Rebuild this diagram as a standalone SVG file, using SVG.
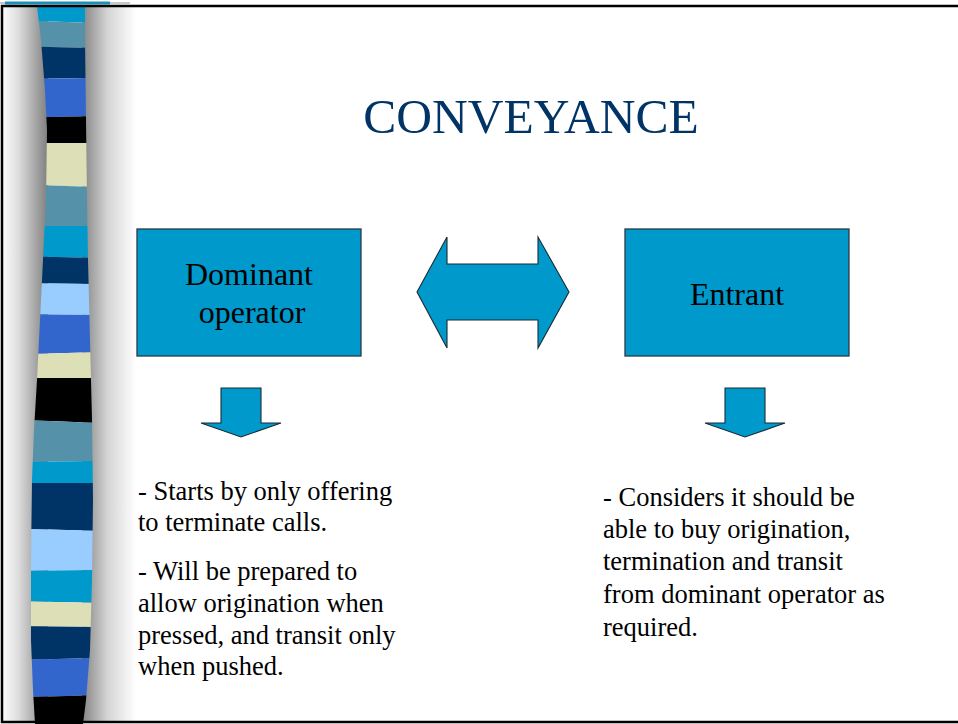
<svg xmlns="http://www.w3.org/2000/svg" width="958" height="724" viewBox="0 0 958 724">
<style>
.serif{font-family:"Liberation Serif","Times New Roman",serif;}
.node rect{fill:#0099CC;stroke:#2a3a44;stroke-width:1.3;}
.lbl{font-size:32px;fill:#000;text-anchor:middle;}
.body{font-size:26.5px;fill:#000;}
.arrow{fill:#0099CC;stroke:#1a2a33;stroke-width:1.1;stroke-linejoin:miter;}
</style>
<defs>
<linearGradient id="shL" gradientUnits="userSpaceOnUse" x1="3" y1="0" x2="46" y2="0">
<stop offset="0" stop-color="#fbfbfb"/><stop offset="0.35" stop-color="#dedede"/><stop offset="1" stop-color="#858585"/>
</linearGradient>
<linearGradient id="shR" gradientUnits="userSpaceOnUse" x1="84" y1="0" x2="136" y2="0">
<stop offset="0" stop-color="#8a8a8a"/><stop offset="0.45" stop-color="#d4d4d4"/><stop offset="1" stop-color="#ffffff"/>
</linearGradient>
<clipPath id="stripClip">
<path d="M37,6 L41,40 L45,90 L47,130 L46,200 L44,240 L41,300 L37,380 L34,430 L32,480 L31,560 L31,640 L33,690 L35,724 L83,724 L86,700 L90,650 L92,580 L93,500 L92,420 L90,340 L88,260 L87,200 L86,120 L85,40 L85,6 Z"/>
</clipPath>
</defs>
<rect x="0" y="0" width="958" height="724" fill="#ffffff"/>
<g id="sidebar">
<rect x="0" y="2" width="130" height="2" fill="#c8c8c8"/>
<rect x="5" y="1.5" width="105" height="3" fill="#1a8fb8"/>
<rect x="3" y="6" width="45" height="716" fill="url(#shL)"/>
<rect x="82" y="6" width="56" height="716" fill="url(#shR)"/>
<g clip-path="url(#stripClip)">
<polygon points="0,0 100,0 100,23 0,20" fill="#0099CC"/>
<polygon points="0,20 100,23 100,48 0,46" fill="#5592AA"/>
<polygon points="0,46 100,48 100,78 0,79" fill="#003366"/>
<polygon points="0,79 100,78 100,116 0,118" fill="#3366CC"/>
<polygon points="0,118 100,116 100,143 0,143" fill="#000000"/>
<polygon points="0,143 100,143 100,187 0,184" fill="#DDDFB7"/>
<polygon points="0,184 100,187 100,226 0,226" fill="#5592AA"/>
<polygon points="0,226 100,226 100,258 0,256" fill="#0099CC"/>
<polygon points="0,256 100,258 100,284 0,283" fill="#003366"/>
<polygon points="0,283 100,284 100,315 0,314" fill="#99CCFF"/>
<polygon points="0,314 100,315 100,352 0,355" fill="#3366CC"/>
<polygon points="0,355 100,352 100,378 0,378" fill="#DDDFB7"/>
<polygon points="0,378 100,378 100,423 0,419" fill="#000000"/>
<polygon points="0,419 100,423 100,461 0,462" fill="#5592AA"/>
<polygon points="0,462 100,461 100,483 0,483" fill="#0099CC"/>
<polygon points="0,483 100,483 100,531 0,528" fill="#003366"/>
<polygon points="0,528 100,531 100,570 0,571" fill="#99CCFF"/>
<polygon points="0,571 100,570 100,603 0,601" fill="#0099CC"/>
<polygon points="0,601 100,603 100,627 0,626" fill="#DDDFB7"/>
<polygon points="0,626 100,627 100,658 0,660" fill="#003366"/>
<polygon points="0,660 100,658 100,695 0,698" fill="#3366CC"/>
<polygon points="0,698 100,695 100,724 0,724" fill="#000000"/>
</g>
</g>
<rect id="frame" x="2" y="6" width="980" height="716" fill="none" stroke="#000" stroke-width="2.5"/>
<g id="title">
<text class="serif" x="531" y="133" font-size="49.5" fill="#003366" text-anchor="middle">CONVEYANCE</text>
</g>
<g id="dominant" class="node">
<rect x="137" y="229" width="224" height="127"/>
<text class="serif lbl" x="249" y="285">Dominant</text>
<text class="serif lbl" x="252" y="323">operator</text>
</g>
<g id="entrant" class="node">
<rect x="625" y="229" width="224" height="127"/>
<text class="serif lbl" x="737" y="305">Entrant</text>
</g>
<g id="connectors">
<polygon class="arrow" points="417,292 447,237 447,264 538,264 538,237 569,292 538,348 538,320 447,320 447,348"/>
<polygon class="arrow" points="221,388 261,388 261,423 281,423 241,437 201,423 221,423"/>
<polygon class="arrow" points="725,388 765,388 765,423 785,423 745,437 705,423 725,423"/>
</g>
<g id="dominant-notes">
<text class="serif body" x="138" y="500">- Starts by only offering</text>
<text class="serif body" x="138" y="531">to terminate calls.</text>
<text class="serif body" x="138" y="580">- Will be prepared to</text>
<text class="serif body" x="138" y="612">allow origination when</text>
<text class="serif body" x="138" y="644">pressed, and transit only</text>
<text class="serif body" x="138" y="675">when pushed.</text>
</g>
<g id="entrant-notes">
<text class="serif body" x="603" y="506">- Considers it should be</text>
<text class="serif body" x="603" y="538">able to buy origination,</text>
<text class="serif body" x="603" y="570">termination and transit</text>
<text class="serif body" x="603" y="603">from dominant operator as</text>
<text class="serif body" x="603" y="636">required.</text>
</g>
</svg>
